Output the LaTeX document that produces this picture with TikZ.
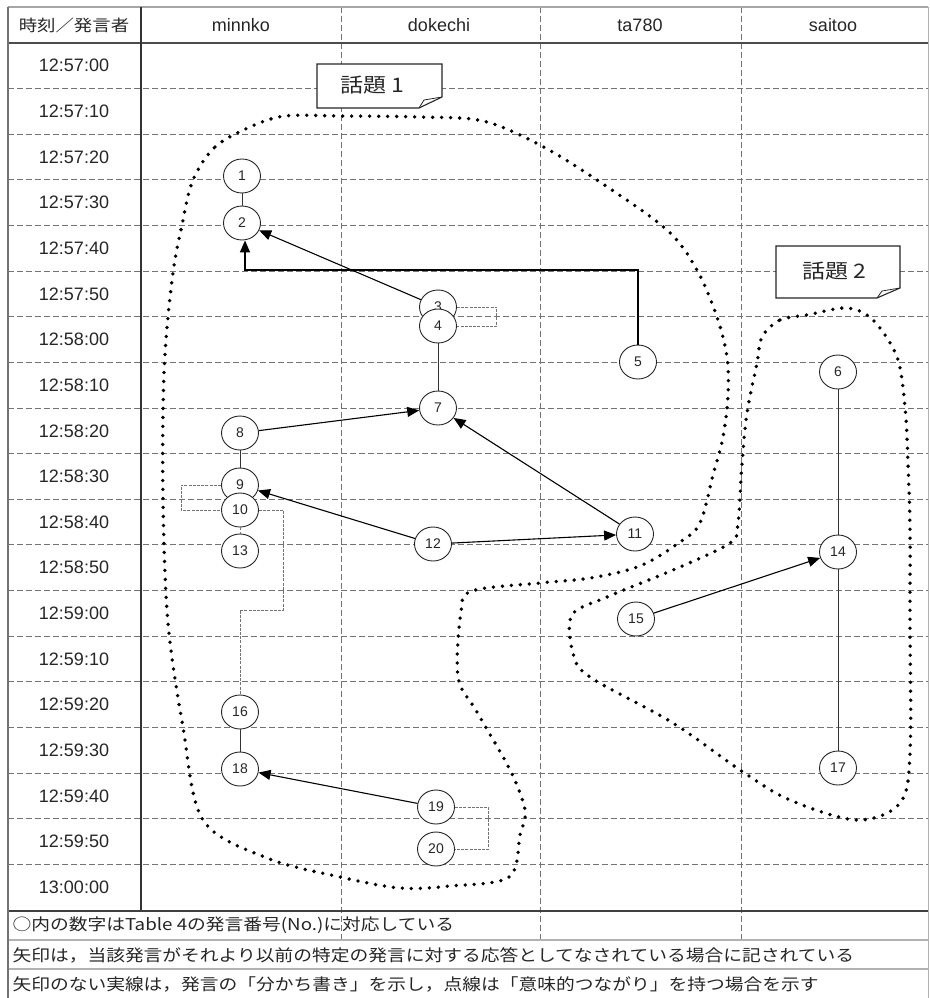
\documentclass[tikz,border=0pt]{standalone}
\usepackage{fontspec}
\setmainfont{Liberation Sans}
\newfontfamily\jpfont[FakeStretch=1.15]{Noto Sans CJK JP}
\usetikzlibrary{arrows.meta,shapes.geometric,calc}
\begin{document}
\begin{tikzpicture}[x=1pt,y=-1pt,
  gridline/.style={draw=black!55, dash pattern=on 6pt off 3pt, line width=0.9pt},
  unode/.style={ellipse, draw=black!85, fill=white, line width=0.9pt, minimum width=37pt, minimum height=34pt, inner sep=0pt, font=\fontsize{14}{14}\selectfont, text=black!85},
  resp/.style={draw=black, line width=1.1pt, -{Triangle[length=12pt,width=10pt]}},
  splitline/.style={draw=black!80, line width=0.9pt},
  semline/.style={draw=black!55, line width=1pt, dash pattern=on 3pt off 1.2pt},
  topic/.style={draw=black, line width=3.8pt, line cap=round, dash pattern=on 0pt off 9pt},
  callout/.style={draw=black!85, fill=white, line width=1.1pt},
  timelab/.style={font=\fontsize{18}{18}\selectfont, text=black!85},
  headlab/.style={font=\fontsize{18}{18}\selectfont, text=black!85},
  jplab/.style={font=\jpfont\fontsize{16}{16}\selectfont, text=black!85},
  notelab/.style={font=\jpfont\fontsize{16.3}{16.3}\selectfont, text=black!85, anchor=west},
  topiclab/.style={font=\jpfont\fontsize{20}{20}\selectfont, text=black!85}
]
\path[use as bounding box] (0,0) rectangle (929,998);
\fill[white] (0,0) rectangle (929,998);
% grid
\foreach \k in {1,...,18} \draw[gridline] (8,43+45.63*\k) -- (928,43+45.63*\k);
\foreach \x in {341,540,741} \draw[gridline] (\x,7) -- (\x,940);
\draw[draw=black!35, line width=2pt] (8,7) -- (928,7);
\draw[draw=black!70, line width=2.5pt] (8,43) -- (928,43);
\draw[draw=black!80, line width=1.6pt] (141,7) -- (141,911);
\draw[draw=black!75, line width=2.2pt] (8,911) -- (928,911);
\draw[draw=black!30, line width=1.6pt] (8,940) -- (928,940);
\draw[draw=black!30, line width=1.6pt] (8,969) -- (928,969);
\draw[draw=black!55, line width=1.4pt] (8,7) -- (8,998);
\draw[draw=black!30, line width=1pt] (928,7) -- (928,998);
% header
\node[jplab] (h0) at (74,25) {時刻／発言者};
\node[headlab] (h1) at (241,25) {minnko};
\node[headlab] (h2) at (439,25) {dokechi};
\node[headlab] (h3) at (640,25) {ta780};
\node[headlab] (h4) at (833,25) {saitoo};
% times
\foreach \t [count=\i from 0] in {12:57:00,12:57:10,12:57:20,12:57:30,12:57:40,12:57:50,12:58:00,12:58:10,12:58:20,12:58:30,12:58:40,12:58:50,12:59:00,12:59:10,12:59:20,12:59:30,12:59:40,12:59:50,13:00:00}
  \node[timelab] (t\i) at (74,65.8+45.63*\i) {\t};
% footnotes
\node[notelab] (f1) at (9,925) {○内の数字はTable 4の発言番号(No.)に対応している};
\node[notelab] (f2) at (9,955) {矢印は，当該発言がそれより以前の特定の発言に対する応答としてなされている場合に記されている};
\node[notelab] (f3) at (9,984) {矢印のない実線は，発言の「分かち書き」を示し，点線は「意味的つながり」を持つ場合を示す};
% topic regions
\draw[topic] plot[smooth cycle, tension=0.55] coordinates {(193,180) (215,147) (250,127) (285,116) (340,116) (420,117) (483,121) (540,145) (600,182) (667,230) (697,270) (717,317) (727,357) (728,395) (723,437) (713,475) (700,523) (680,542) (640,566) (590,578) (540,583) (472,591) (461,612) (458,677) (477,712) (510,770) (525,810) (520,835) (509,877) (450,886) (400,888) (340,877) (267,858) (203,820) (183,727) (168,623) (163,500) (164,373) (172,280) (182,225)};
\draw[topic] plot[smooth cycle, tension=0.55] coordinates {(762,337) (780,320) (807,315) (847,308) (873,320) (897,357) (905,407) (908,463) (910,530) (910,620) (910,753) (900,803) (857,820) (790,800) (740,770) (673,723) (590,677) (573,653) (572,615) (607,597) (673,570) (730,543) (738,523) (742,463) (747,413) (757,363)};
% callouts
\draw[callout] (317,64) -- (442,64) -- (442,97) -- (419,108) -- (317,108) -- cycle;
\draw[draw=black!85, line width=0.8pt] (419,108) -- (424,100) -- (442,97);
\node[topiclab] (c1) at (372,85) {話題 1};
\draw[callout] (776,246) -- (900,246) -- (900,288) -- (877,298) -- (776,298) -- cycle;
\draw[draw=black!85, line width=0.8pt] (877,298) -- (882,291) -- (900,288);
\node[topiclab] (c2) at (834,271) {話題 2};
% utterance nodes
\node[unode] (n1) at (242,176) {1};
\node[unode] (n2) at (242,223) {2};
\node[unode] (n3) at (438,307) {3};
\node[unode] (n4) at (438,326) {4};
\node[unode] (n5) at (638,362) {5};
\node[unode] (n6) at (838,372) {6};
\node[unode] (n7) at (438,408) {7};
\node[unode] (n8) at (240,433) {8};
\node[unode] (n9) at (240,485) {9};
\node[unode] (n10) at (240,510) {10};
\node[unode] (n11) at (635,534) {11};
\node[unode] (n12) at (433,544) {12};
\node[unode] (n13) at (240,551) {13};
\node[unode] (n14) at (838,552) {14};
\node[unode] (n15) at (636,619) {15};
\node[unode] (n16) at (240,712) {16};
\node[unode] (n17) at (838,768) {17};
\node[unode] (n18) at (240,769) {18};
\node[unode] (n19) at (436,807) {19};
\node[unode] (n20) at (436,849) {20};
% helper coordinates
\coordinate (k5) at (638,270);
\coordinate (k10a) at (283,510);
\coordinate (k10b) at (283,610);
\coordinate (k10c) at (240,610);
% split lines
\draw[splitline] (n1) -- (n2);
\draw[splitline] (n4) -- (n7);
\draw[splitline] (n8) -- (n9);
\draw[splitline] (n16) -- (n18);
\draw[splitline] (n6) -- (n14);
\draw[splitline] (n14) -- (n17);
% semantic lines
\draw[semline] (n3.east) -- ++(40,0) |- (n4.east);
\draw[semline] (n9.west) -- ++(-40,0) |- (n10.west);
\draw[semline] (n10) -- (n13);
\draw[semline] (n10.east) -- (k10a) -- (k10b) -- (k10c) -- (n16.north);
\draw[semline] (n19.east) -- ++(34,0) |- (n20.east);
% response arrows
\draw[resp] (n3) -- (n2);
\draw[resp, line width=1.6pt] (n5.north) -- (k5) -| ([xshift=3pt]n2.south);
\draw[resp] (n8) -- (n7);
\draw[resp] (n11) -- (n7);
\draw[resp] (n12) -- (n9);
\draw[resp] (n12) -- (n11);
\draw[resp] (n15) -- (n14);
\draw[resp] (n19) -- (n18);
\end{tikzpicture}
\end{document}
